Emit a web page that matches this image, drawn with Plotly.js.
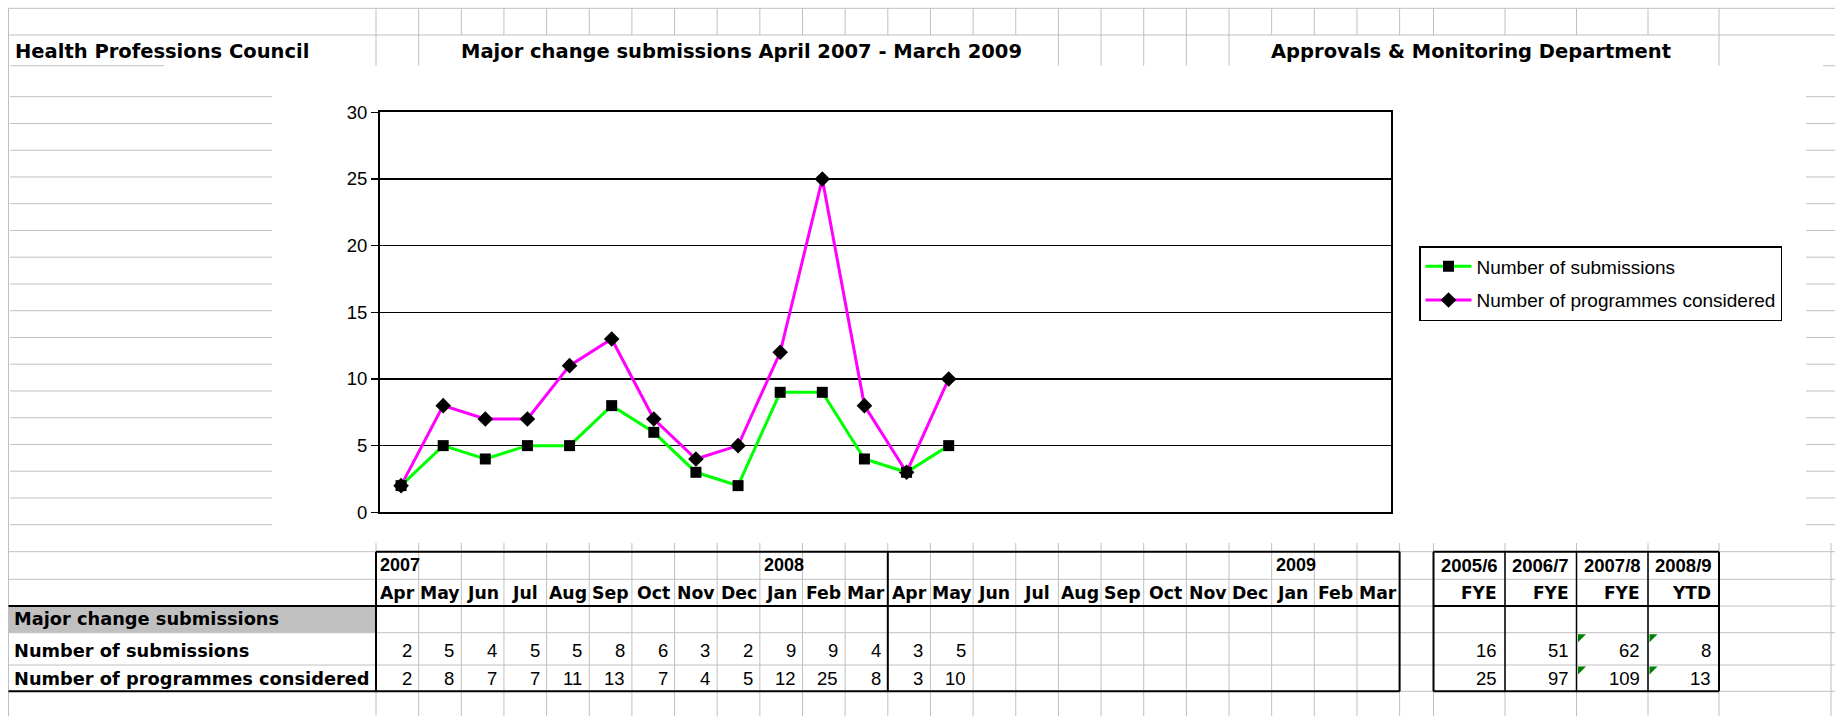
<!DOCTYPE html>
<html>
<head>
<meta charset="utf-8">
<script src="https://cdn.plot.ly/plotly-3.0.1.min.js"></script>
<style>
  html, body { margin: 0; padding: 0; background: #ffffff; overflow: hidden; }
  #chart { width: 1835px; height: 716px; }
</style>
</head>
<body>
<div id="chart"></div>
<script>
// ---------------- DATA ----------------
const monthNames = ['Apr','May','Jun','Jul','Aug','Sep','Oct','Nov','Dec','Jan','Feb','Mar',
                    'Apr','May','Jun','Jul','Aug','Sep','Oct','Nov','Dec','Jan','Feb','Mar'];
const monthYears = [2007,2007,2007,2007,2007,2007,2007,2007,2007,2008,2008,2008,
                    2008,2008,2008,2008,2008,2008,2008,2008,2008,2009,2009,2009];
const seriesNames = ['Number of submissions', 'Number of programmes considered'];
const submissions = [2,5,4,5,5,8,6,3,2,9,9,4,3,5];
const programmes  = [2,8,7,7,11,13,7,4,5,12,25,8,3,10];
const fyePeriods = ['2005/6','2006/7','2007/8','2008/9'];
const fyeTypes   = ['FYE','FYE','FYE','YTD'];
const fyeSubmissions = [16,51,62,8];
const fyeProgrammes  = [25,97,109,13];
const headerLeft   = 'Health Professions Council';
const headerCenter = 'Major change submissions April 2007 - March 2009';
const headerRight  = 'Approvals & Monitoring Department';
const sectionLabel = 'Major change submissions';

// ---------------- GEOMETRY (page layout, pixels) ----------------
const W = 1835, H = 716;
const X = v => v / W;
const Y = v => 1 - v / H;
const colA = 8.5;
const monthX0 = 376, monthW = 42.65;
const mb = k => monthX0 + k * monthW;
const monthRight = mb(24);
const fyeB = [1433.5, 1505, 1576.5, 1648, 1719];
const rowT = [551.7, 579.3, 606, 632.7, 665, 691.3];
const plotL = 380, plotR = 1391, plotT = 112.3, plotB = 512.3;
const GRID = '#c0c0c0';
const BOLD = 'DejaVu Sans';
const REG = 'Liberation Sans, Arial, sans-serif';

const shapes = [];
function hl(x0, x1, y, color, w, layer) {
  shapes.push({type:'line', xref:'paper', yref:'paper', x0:X(x0), x1:X(x1), y0:Y(y), y1:Y(y),
    line:{color:color, width:w}, layer: layer || 'below'});
}
function vl(x, y0, y1, color, w, layer) {
  shapes.push({type:'line', xref:'paper', yref:'paper', x0:X(x), x1:X(x), y0:Y(y0), y1:Y(y1),
    line:{color:color, width:w}, layer: layer || 'below'});
}

// spreadsheet gridlines
vl(colA, 8.3, 716, GRID, 1);
hl(colA, W, 8.3, GRID, 1);
hl(colA, W, 35, GRID, 1);
const allBounds = [];
for (let k = 0; k <= 24; k++) allBounds.push(mb(k));
fyeB.forEach(b => allBounds.push(b));
allBounds.forEach(b => vl(b, 8.3, 35, GRID, 1));
// second header row: lines hidden where header text overflows
const hidden = [[458, 1024], [1268, 1673]];
allBounds.forEach(b => {
  if (!hidden.some(r => b > r[0] && b < r[1])) vl(b, 35, 65.7, GRID, 1);
});
hl(10, 164, 65.7, GRID, 1);
hl(1823, W, 65.7, GRID, 1);
// rows peeking out beside the chart object
for (let k = 0; k <= 16; k++) {
  const y = 96.7 + k * 26.75;
  hl(10, 272, y, GRID, 1);
  hl(1806, W, y, GRID, 1);
}
// lower sheet area
rowT.forEach(y => hl(colA, W, y, GRID, 1));
allBounds.concat([1831]).forEach(b => vl(b, 543, 716, GRID, 1));
// grey section label cell
shapes.push({type:'rect', xref:'paper', yref:'paper', x0:X(colA+0.5), x1:X(monthX0), y0:Y(rowT[2]), y1:Y(rowT[3]),
  fillcolor:'#c0c0c0', line:{width:0}, layer:'below'});
// table borders
const B = '#000000';
hl(monthX0, monthRight, rowT[0], B, 2, 'above');
hl(colA, monthRight, rowT[2], B, 2, 'above');
hl(colA, monthRight, rowT[5], B, 2, 'above');
vl(monthX0, rowT[0], rowT[5], B, 2, 'above');
vl(mb(12), rowT[0], rowT[5], B, 2, 'above');
vl(monthRight, rowT[0], rowT[5], B, 2, 'above');
hl(fyeB[0], fyeB[4], rowT[0], B, 2, 'above');
hl(fyeB[0], fyeB[4], rowT[2], B, 2, 'above');
hl(fyeB[0], fyeB[4], rowT[5], B, 2, 'above');
vl(fyeB[0], rowT[0], rowT[5], B, 2, 'above');
vl(fyeB[4], rowT[0], rowT[5], B, 2, 'above');
for (let i = 1; i < 4; i++) vl(fyeB[i], rowT[0], rowT[5], B, 1.5, 'above');
// green cell indicators
[2, 3].forEach(c => [rowT[3], rowT[4]].forEach(y => {
  const x = fyeB[c] + 1.5, yy = y + 1.5, s = 8;
  shapes.push({type:'path', xref:'paper', yref:'paper',
    path:`M${X(x)},${Y(yy)} L${X(x+s)},${Y(yy)} L${X(x)},${Y(yy+s)} Z`,
    fillcolor:'#008000', line:{width:0}, layer:'above'});
}));

// ---------------- TEXT ----------------
const ann = [];
function txt(x, y, text, anchor, family, size, weight) {
  ann.push({xref:'paper', yref:'paper', x:X(x), y:Y(y), text:text, showarrow:false,
    xanchor:anchor, yanchor:'middle', font:{family:family, size:size, color:'#000', weight:weight || 400}});
}
txt(13, 52, headerLeft, 'left', BOLD, 19.5, 700);
txt(741, 52, headerCenter, 'center', BOLD, 19.5, 700);
txt(1470.5, 52, headerRight, 'center', BOLD, 19.5, 700);

const rowY = [565, 593, 618, 650, 678];
monthYears.forEach((yr, i) => {
  if (i === 0 || monthYears[i-1] !== yr) txt(mb(i) + 2, rowY[0], String(yr), 'left', REG, 18, 700);
  txt(mb(i) + monthW/2, rowY[1], monthNames[i], 'center', BOLD, 17.3, 700);
});
txt(12, rowY[2], sectionLabel, 'left', BOLD, 17.8, 700);
txt(12, rowY[3], seriesNames[0], 'left', BOLD, 17.8, 700);
txt(12, rowY[4], seriesNames[1], 'left', BOLD, 17.8, 700);
submissions.forEach((v, i) => txt(mb(i+1) - 5, rowY[3], String(v), 'right', REG, 18.5));
programmes.forEach((v, i) => txt(mb(i+1) - 5, rowY[4], String(v), 'right', REG, 18.5));
fyePeriods.forEach((p, i) => {
  txt((fyeB[i] + fyeB[i+1]) / 2, rowY[0], p, 'center', REG, 18.5, 700);
  txt(fyeB[i+1] - 6, rowY[1], fyeTypes[i], 'right', BOLD, 17, 700);
  txt(fyeB[i+1] - 6, rowY[3], String(fyeSubmissions[i]), 'right', REG, 18.5);
  txt(fyeB[i+1] - 6, rowY[4], String(fyeProgrammes[i]), 'right', REG, 18.5);
});

// ---------------- CHART ----------------
const cats = monthNames.map((m, i) => m + ' ' + monthYears[i]);
const traces = [
  {x: cats.slice(0, programmes.length), y: programmes, name: seriesNames[1], type:'scatter',
   mode:'lines+markers', line:{color:'#ff00ff', width:3},
   marker:{symbol:'diamond', size:12, color:'#000000', line:{width:0}},
   legendrank:2, legendgroup:'b'},
  {x: cats.slice(0, submissions.length), y: submissions, name: seriesNames[0], type:'scatter',
   mode:'lines+markers', line:{color:'#00ff00', width:3},
   marker:{symbol:'square', size:11, color:'#000000', line:{width:0}},
   legendrank:1, legendgroup:'a'}
];

const layout = {
  width: W, height: H,
  margin: {l:0, r:0, t:0, b:0, pad:0},
  paper_bgcolor:'#ffffff', plot_bgcolor:'#ffffff',
  showlegend: true,
  xaxis: {type:'category', categoryorder:'array', categoryarray: cats, range:[-0.5, 23.5],
    domain:[X(plotL), X(plotR)], showline:true, mirror:true, linecolor:'#000', linewidth:2,
    showgrid:false, zeroline:false, showticklabels:false, ticks:''},
  yaxis: {range:[0, 30], dtick:5, tick0:0, domain:[Y(plotB), Y(plotT)],
    showline:true, mirror:true, linecolor:'#000', linewidth:2,
    showgrid:true, gridcolor:'#000', gridwidth:1.5, zeroline:false,
    ticks:'outside', ticklen:7, tickwidth:1.5, tickcolor:'#000',
    tickfont:{family:REG, size:18.5, color:'#000'}},
  legend: {x: X(1419), y: Y(246), xanchor:'left', yanchor:'top',
    bgcolor:'#ffffff', bordercolor:'#000', borderwidth:1.5,
    font:{family:REG, size:19, color:'#000'}, traceorder:'grouped', tracegroupgap:6, itemwidth:46},
  shapes: shapes,
  annotations: ann
};

Plotly.newPlot('chart', traces, layout, {staticPlot:true, displayModeBar:false});
</script>
</body>
</html>
